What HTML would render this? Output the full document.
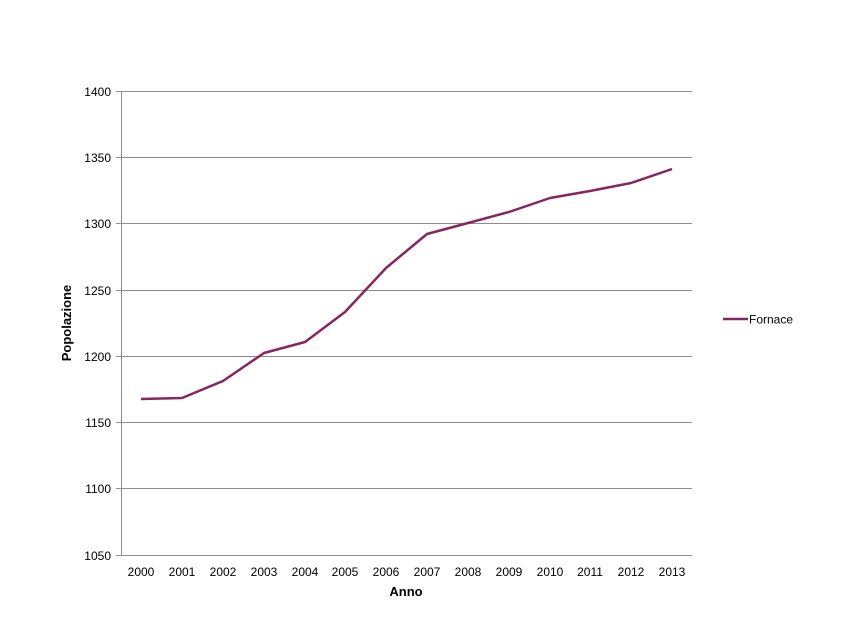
<!DOCTYPE html>
<html><head><meta charset="utf-8"><style>
body{margin:0;background:#fff;}
svg{display:block;font-family:"Liberation Sans",Arial,sans-serif;}
</style></head><body>
<svg width="850" height="638" viewBox="0 0 850 638" xmlns="http://www.w3.org/2000/svg">
<rect width="850" height="638" fill="#fff"/>
<g stroke="#8c8c8c" stroke-width="1">
<line x1="121" y1="91.5" x2="692" y2="91.5"/>
<line x1="121" y1="157.5" x2="692" y2="157.5"/>
<line x1="121" y1="223.5" x2="692" y2="223.5"/>
<line x1="121" y1="290.5" x2="692" y2="290.5"/>
<line x1="121" y1="356.5" x2="692" y2="356.5"/>
<line x1="121" y1="422.5" x2="692" y2="422.5"/>
<line x1="121" y1="488.5" x2="692" y2="488.5"/>
<line x1="121" y1="555.5" x2="692" y2="555.5"/>
<line x1="121.5" y1="91" x2="121.5" y2="555"/>
<line x1="116" y1="91.5" x2="121" y2="91.5"/>
<line x1="116" y1="157.5" x2="121" y2="157.5"/>
<line x1="116" y1="223.5" x2="121" y2="223.5"/>
<line x1="116" y1="290.5" x2="121" y2="290.5"/>
<line x1="116" y1="356.5" x2="121" y2="356.5"/>
<line x1="116" y1="422.5" x2="121" y2="422.5"/>
<line x1="116" y1="488.5" x2="121" y2="488.5"/>
<line x1="116" y1="555.5" x2="121" y2="555.5"/>
</g>
<g font-size="12" fill="#000" text-anchor="end">
<text x="111" y="96">1400</text>
<text x="111" y="162">1350</text>
<text x="111" y="228">1300</text>
<text x="111" y="295">1250</text>
<text x="111" y="361">1200</text>
<text x="111" y="427">1150</text>
<text x="111" y="493">1100</text>
<text x="111" y="560">1050</text>
</g>
<g font-size="12" fill="#000" text-anchor="middle">
<text x="141" y="576">2000</text><text x="182" y="576">2001</text><text x="223" y="576">2002</text>
<text x="264" y="576">2003</text><text x="305" y="576">2004</text><text x="345" y="576">2005</text>
<text x="386" y="576">2006</text><text x="427" y="576">2007</text><text x="468" y="576">2008</text>
<text x="509" y="576">2009</text><text x="550" y="576">2010</text><text x="590" y="576">2011</text>
<text x="631" y="576">2012</text><text x="672" y="576">2013</text>
</g>
<text x="406" y="596" font-size="13" font-weight="bold" text-anchor="middle">Anno</text>
<text transform="translate(71,323) rotate(-90)" font-size="13" font-weight="bold" text-anchor="middle">Popolazione</text>
<polyline fill="none" stroke="#86265e" stroke-width="2.5" stroke-linejoin="round"
points="141,399 182,398 223,381 264,353 305,342 345,312 386,268 427,234 468,223 509,212 550,198 590,191 631,183 672,169"/>
<line x1="723" y1="319" x2="748" y2="319" stroke="#86265e" stroke-width="2.5"/>
<text x="749" y="323.5" font-size="12">Fornace</text>
</svg>
</body></html>
